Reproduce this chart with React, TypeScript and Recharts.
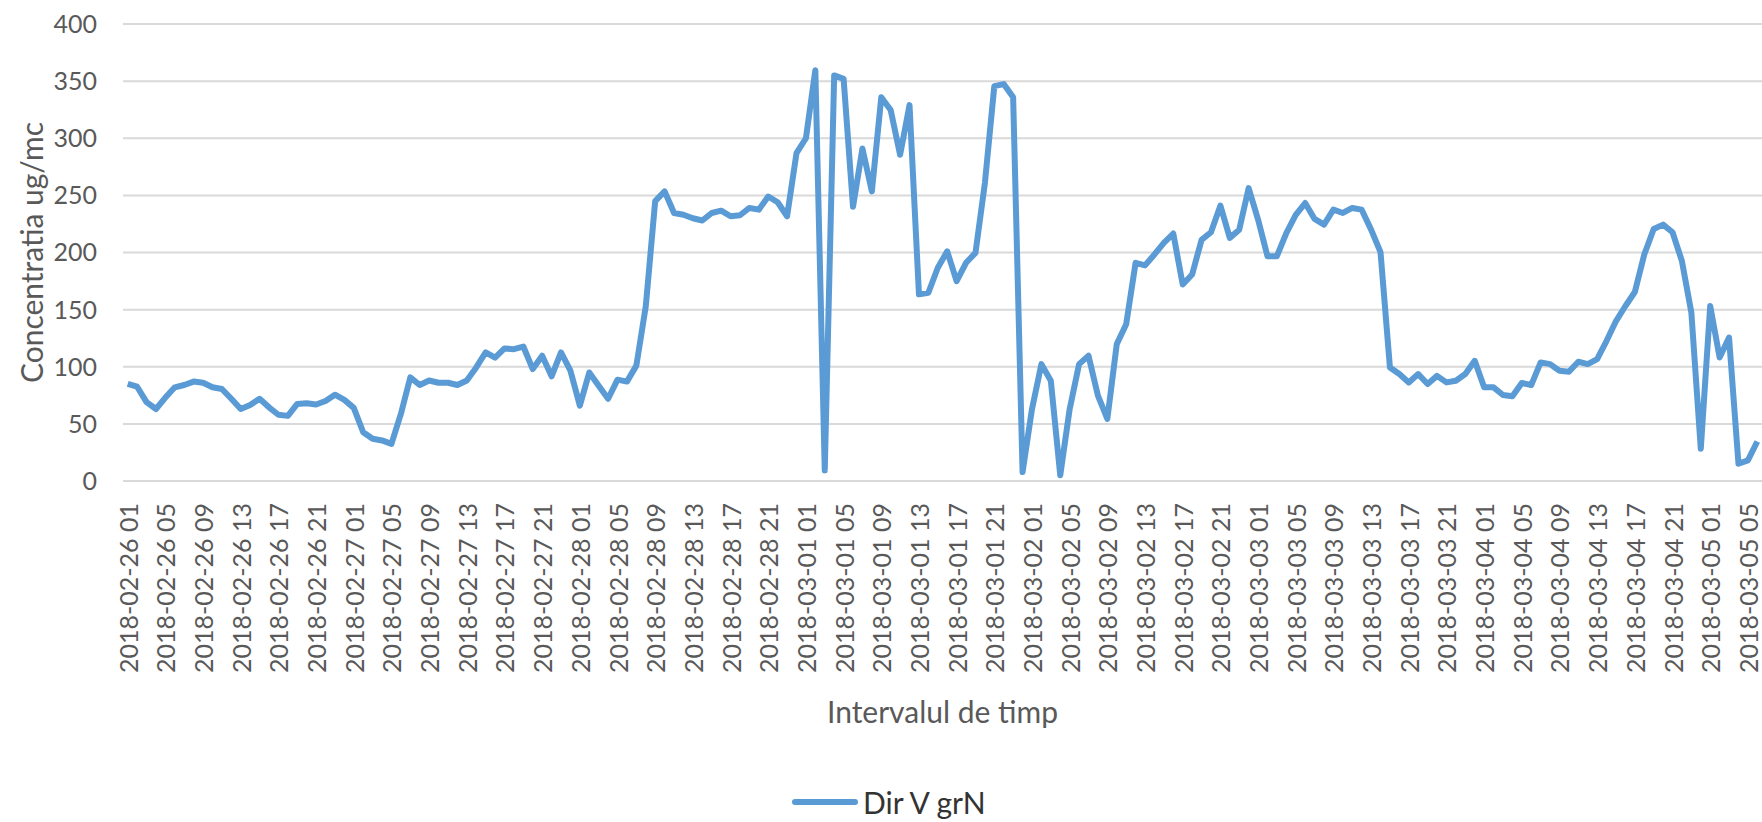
import { LineChart, Line, XAxis, YAxis, CartesianGrid } from 'recharts';

// hourly readings, first one at 2018-02-26 01:00
const days = [
  '2018-02-26', '2018-02-27', '2018-02-28', '2018-03-01',
  '2018-03-02', '2018-03-03', '2018-03-04', '2018-03-05',
];
const firstHour = 1;

const dirVgrN = [
  85, 82.5, 69, 63, 73, 82, 84, 87, 86, 82, 80.5, 72, 63, 66.5, 72, 64.5, 58, 57, 67.5, 68, 67, 70, 75.5, 71,
  64, 42.7, 37, 35.5, 32.5, 58.7, 90.7, 84, 88, 86, 86, 84, 88, 99.4, 112.5, 108, 116, 115.4, 117.7, 98, 109.6, 91.6, 112.5, 96.5,
  66, 95, 83.4, 72, 88.7, 87, 101, 153, 245, 253.5, 234.6, 233, 230, 228, 234.6, 236.6, 231.7, 232.6, 239, 237.5, 249, 244,
  231.7, 287, 300, 359.6, 9.3, 355, 352, 240, 291, 253.5, 335.8, 324.7, 285.5, 329, 163.4, 164.8, 186.6, 201, 175, 191, 199.7, 260.8, 345.6, 347.4,
  335.8, 7.8, 63, 102.3, 87.8, 5, 63, 102.3, 109.6, 74.7, 54.4, 119.8, 137.2, 191, 188.7, 198.3, 208.4, 216.6, 172, 180.8, 211, 217.7, 241, 212.8,
  220, 256.4, 228.8, 196.8, 196.8, 217, 233, 243.3, 229.4, 224.4, 237.5, 234.6, 239, 237.5, 220, 200.3, 99.4, 93.6, 86.3, 93.6, 84.9, 92, 86.3, 87.8,
  93.6, 105.2, 82, 82, 75.3, 74.1, 85.8, 84, 103.8, 102.3, 96.5, 95.6, 104.4, 102.3, 106.7, 122.7, 140, 153.2, 165.4, 198.3, 220.6, 224.4, 217.7, 192.4,
  147.4, 28.2, 153.2, 108.1, 125.6, 15.1, 18, 34.6,
];

const yTicks = [0, 50, 100, 150, 200, 250, 300, 350, 400];

const timeLabels = dirVgrN.map((_, i) => {
  const h = firstHour + i;
  return `${days[Math.floor(h / 24)]} ${String(h % 24).padStart(2, '0')}`;
});

const data = timeLabels.map((t, i) => ({ t, v: dirVgrN[i] }));

const FONT = 'Lato, "Open Sans", sans-serif';
const GREY = '#595959';
const BLUE = '#5b9bd5';

const XTick = ({ x, y, payload }: any) => (
  <text
    x={x}
    y={y}
    transform={`rotate(-90 ${x} ${y})`}
    textAnchor="end"
    dominantBaseline="central"
    fill={GREY}
    fontSize={25}
    fontFamily={FONT}
  >
    {payload.value}
  </text>
);

export default function App() {
  return (
    <div style={{ position: 'absolute', left: 0, top: 0, width: 1762, height: 822, background: '#fff' }}>
      <LineChart width={1762} height={822} data={data} margin={{ top: 24, right: 0, bottom: 0, left: 0 }}>
        <CartesianGrid vertical={false} stroke="#d9d9d9" strokeWidth={2} />
        <XAxis
          dataKey="t"
          interval={3}
          height={341}
          padding={{ left: 4.7, right: 4.7 }}
          tickSize={0}
          tickMargin={22}
          tick={<XTick />}
          axisLine={{ stroke: '#d9d9d9', strokeWidth: 2 }}
          tickLine={false}
          label={{
            content: ({ viewBox }: any) => (
              <text
                x={viewBox.x + viewBox.width / 2}
                y={viewBox.y + 230}
                textAnchor="middle"
                dominantBaseline="central"
                fill={GREY}
                fontSize={30}
                fontFamily={FONT}
              >
                Intervalul de timp
              </text>
            ),
          }}
        />
        <YAxis
          width={123}
          domain={[0, 400]}
          ticks={yTicks}
          axisLine={false}
          tickLine={false}
          tickSize={0}
          tickMargin={26}
          tick={{ fill: GREY, fontSize: 25, fontFamily: FONT }}
          label={{
            content: ({ viewBox }: any) => {
              const cx = viewBox.x + 31;
              const cy = viewBox.y + viewBox.height / 2;
              return (
                <text
                  x={cx}
                  y={cy}
                  transform={`rotate(-90 ${cx} ${cy})`}
                  textAnchor="middle"
                  dominantBaseline="central"
                  fill={GREY}
                  fontSize={30}
                  fontFamily={FONT}
                >
                  Concentratia ug/mc
                </text>
              );
            },
          }}
        />
        <Line
          type="linear"
          dataKey="v"
          name="Dir V grN"
          stroke={BLUE}
          strokeWidth={6}
          strokeLinejoin="round"
          dot={false}
          isAnimationActive={false}
        />
      </LineChart>
      <div
        style={{
          position: 'absolute',
          left: 792,
          top: 784,
          display: 'flex',
          alignItems: 'center',
          fontFamily: FONT,
          fontSize: 30,
          color: '#333',
        }}
      >
        <svg width={66} height={10} style={{ marginRight: 5 }}>
          <line x1={3} y1={5} x2={63} y2={5} stroke={BLUE} strokeWidth={6} strokeLinecap="round" />
        </svg>
        <span>Dir V grN</span>
      </div>
    </div>
  );
}
